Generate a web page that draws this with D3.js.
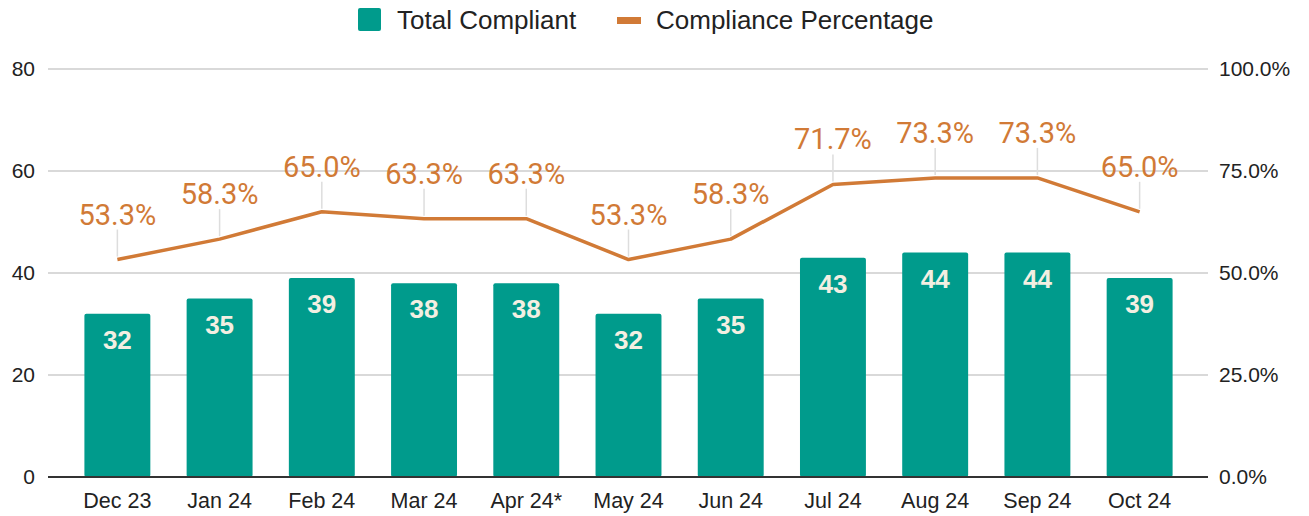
<!DOCTYPE html>
<html>
<head>
<meta charset="utf-8">
<script src="https://cdn.jsdelivr.net/npm/d3@7"></script>
<style>
  body { margin: 0; background: #fff; }
  svg { display: block; font-family: "Liberation Sans", Arial, sans-serif; }
</style>
</head>
<body>
<svg id="chart" width="1309" height="516"></svg>
<script>
    var months = ['Dec 23', 'Jan 24', 'Feb 24', 'Mar 24', 'Apr 24*', 'May 24', 'Jun 24', 'Jul 24', 'Aug 24', 'Sep 24', 'Oct 24'];
    var totalCompliant = [32, 35, 39, 38, 38, 32, 35, 43, 44, 44, 39];
    var compliancePct = [53.3, 58.3, 65.0, 63.3, 63.3, 53.3, 58.3, 71.7, 73.3, 73.3, 65.0];
    var leftTicks = [0, 20, 40, 60, 80];
    var rightTicks = [0, 25, 50, 75, 100];

(function() {
    'use strict';

    var teal = '#009b8c';
    var orange = '#d17a36';

    var svg = d3.select('#chart');
    var plotLeft = 48, plotRight = 1208, plotTop = 69, plotBottom = 477;

    var x = d3.scaleBand()
        .domain(months)
        .range([66, 1191])
        .paddingInner(0.355)
        .paddingOuter(0.18);

    var yLeft = d3.scaleLinear().domain([0, 80]).range([plotBottom, plotTop]);
    var yRight = d3.scaleLinear().domain([0, 100]).range([plotBottom, plotTop]);

    // gridlines
    svg.append('g')
        .selectAll('line')
        .data(leftTicks.filter(function(d) { return d > 0; }))
        .enter().append('line')
        .attr('x1', plotLeft).attr('x2', plotRight)
        .attr('y1', function(d) { return yLeft(d); })
        .attr('y2', function(d) { return yLeft(d); })
        .attr('stroke', '#cccccc')
        .attr('stroke-width', 1.5);

    // left axis
    var axisL = svg.append('g')
        .attr('transform', 'translate(' + plotLeft + ',0)')
        .call(d3.axisLeft(yLeft).tickValues(leftTicks).tickSize(0).tickPadding(13));
    axisL.select('.domain').remove();
    axisL.selectAll('text').attr('font-size', 21).attr('fill', '#222').attr('font-family', '"Liberation Sans", Arial, sans-serif');

    // right axis
    var axisR = svg.append('g')
        .attr('transform', 'translate(' + plotRight + ',0)')
        .call(d3.axisRight(yRight).tickValues(rightTicks).tickSize(0).tickPadding(11)
            .tickFormat(function(d) { return d.toFixed(1) + '%'; }));
    axisR.select('.domain').remove();
    axisR.selectAll('text').attr('font-size', 21).attr('fill', '#222').attr('font-family', '"Liberation Sans", Arial, sans-serif');

    // bars
    svg.append('g')
        .selectAll('rect')
        .data(totalCompliant)
        .enter().append('rect')
        .attr('x', function(d, i) { return x(months[i]); })
        .attr('y', function(d) { return yLeft(d); })
        .attr('width', x.bandwidth())
        .attr('height', function(d) { return plotBottom - yLeft(d); })
        .attr('rx', 2)
        .attr('fill', teal);

    // bar labels
    svg.append('g')
        .selectAll('text')
        .data(totalCompliant)
        .enter().append('text')
        .attr('x', function(d, i) { return x(months[i]) + x.bandwidth() / 2; })
        .attr('y', function(d) { return yLeft(d) + 35; })
        .attr('text-anchor', 'middle')
        .attr('font-size', 26)
        .attr('font-weight', 'bold')
        .attr('fill', '#f3efe2')
        .text(function(d) { return d; });

    // zero baseline
    svg.append('line')
        .attr('x1', plotLeft).attr('x2', plotRight)
        .attr('y1', plotBottom).attr('y2', plotBottom)
        .attr('stroke', '#333')
        .attr('stroke-width', 2);

    // x labels
    svg.append('g')
        .selectAll('text')
        .data(months)
        .enter().append('text')
        .attr('x', function(d) { return x(d) + x.bandwidth() / 2; })
        .attr('y', 508)
        .attr('text-anchor', 'middle')
        .attr('font-size', 21.5)
        .attr('fill', '#222')
        .text(function(d) { return d; });

    var cx = function(d, i) { return x(months[i]) + x.bandwidth() / 2; };

    // leader lines
    svg.append('g')
        .selectAll('line')
        .data(compliancePct)
        .enter().append('line')
        .attr('x1', cx).attr('x2', cx)
        .attr('y1', function(d) { return yRight(d) - 3; })
        .attr('y2', function(d) { return yRight(d) - 30; })
        .attr('stroke', '#dddddd')
        .attr('stroke-width', 1.5);

    // line
    svg.append('path')
        .datum(compliancePct)
        .attr('d', d3.line()
            .x(cx)
            .y(function(d) { return yRight(d); }))
        .attr('fill', 'none')
        .attr('stroke', orange)
        .attr('stroke-width', 3.5)
        .attr('stroke-linejoin', 'round');

    // line labels
    svg.append('g')
        .selectAll('text')
        .data(compliancePct)
        .enter().append('text')
        .attr('x', cx)
        .attr('y', function(d) { return yRight(d) - 35; })
        .attr('text-anchor', 'middle')
        .attr('font-family', 'Roboto, sans-serif')
        .attr('font-size', 29)
        .attr('fill', orange)
        .text(function(d) { return d.toFixed(1) + '%'; });

    // legend
    var legend = svg.append('g').attr('font-size', 26).attr('fill', '#222');
    legend.append('rect')
        .attr('x', 358).attr('y', 8).attr('width', 23).attr('height', 23)
        .attr('rx', 2).attr('fill', teal);
    legend.append('text').attr('x', 397).attr('y', 29).text('Total Compliant');
    legend.append('rect')
        .attr('x', 617).attr('y', 17).attr('width', 24).attr('height', 7)
        .attr('fill', orange);
    legend.append('text').attr('x', 656).attr('y', 29).text('Compliance Percentage');
}());
</script>
</body>
</html>
